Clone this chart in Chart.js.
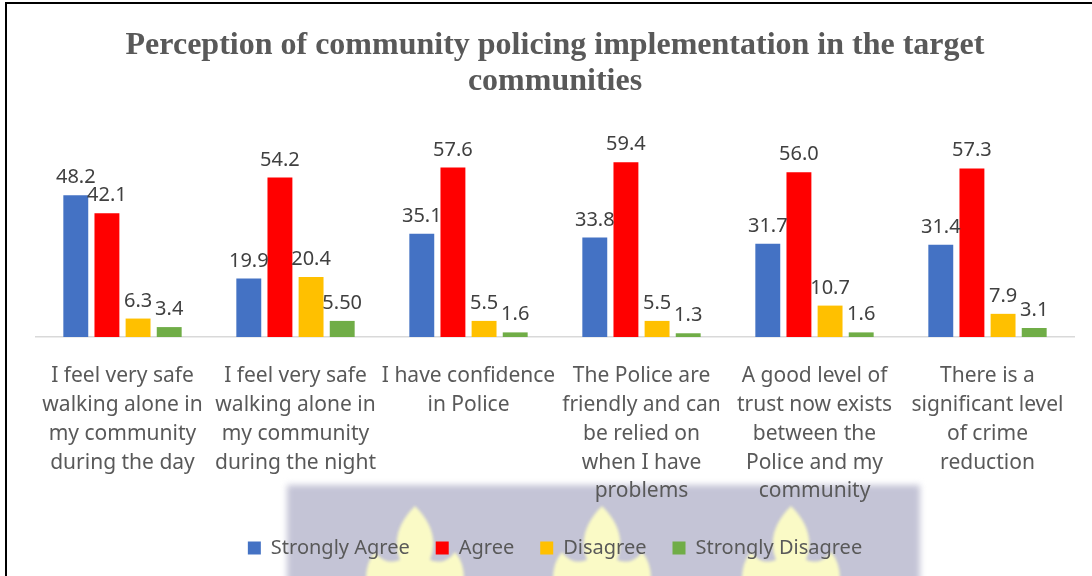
<!DOCTYPE html>
<html>
<head>
<meta charset="utf-8">
<script src="https://cdn.jsdelivr.net/npm/chart.js@4.4.0/dist/chart.umd.min.js"></script>
<style>
  html, body { margin: 0; padding: 0; background: #fff; }
  #wrap { width: 1092px; height: 576px; }
</style>
</head>
<body>
<div id="wrap"><canvas id="perceptionChart" width="1092" height="576"></canvas></div>
<script>
// Statements (x categories), one multi-line label each
const statements = [
    ['I feel very safe', 'walking alone in', 'my community', 'during the day'],
    ['I feel very safe', 'walking alone in', 'my community', 'during the night'],
    ['I have confidence', 'in Police'],
    ['The Police are', 'friendly and can', 'be relied on', 'when I have', 'problems'],
    ['A good level of', 'trust now exists', 'between the', 'Police and my', 'community'],
    ['There is a', 'significant level', 'of crime', 'reduction']
];

// Percent of respondents per answer
const stronglyAgree = [48.2, 19.9, 35.1, 33.8, 31.7, 31.4];
const agree = [42.1, 54.2, 57.6, 59.4, 56.0, 57.3];
const disagree = [6.3, 20.4, 5.5, 5.5, 10.7, 7.9];
const stronglyDisagree = [3.4, 5.50, 1.6, 1.3, 1.6, 3.1];
// decimals shown in the strongly disagree labels
const stronglyDisagreeDecimals = [1, 2, 1, 1, 1, 1];

const yMin = 0;
const yMax = 70;

const chartTitle = ['Perception of community policing implementation in the target', 'communities'];

// Background: white page with the faded crest band behind the legend
const backdrop = {
    id: 'backdrop',
    beforeDraw(chart) {
        const ctx = chart.ctx;
        ctx.save();
        ctx.fillStyle = '#ffffff';
        ctx.fillRect(0, 0, chart.width, chart.height);

        ctx.filter = 'blur(3px)';
        ctx.fillStyle = '#c4c4d6';
        ctx.fillRect(287, 485, 633, 110);

        ctx.filter = 'blur(1.5px)';
        ctx.fillStyle = '#fafac6';
        [415, 602, 791].forEach(cx => {
            ctx.beginPath();
            ctx.moveTo(cx, 506);
            ctx.quadraticCurveTo(cx + 26, 532, cx + 15, 560);
            ctx.quadraticCurveTo(cx + 30, 566, cx + 40, 552);
            ctx.quadraticCurveTo(cx + 52, 566, cx + 48, 590);
            ctx.lineTo(cx - 48, 590);
            ctx.quadraticCurveTo(cx - 52, 566, cx - 40, 552);
            ctx.quadraticCurveTo(cx - 30, 566, cx - 15, 560);
            ctx.quadraticCurveTo(cx - 26, 532, cx, 506);
            ctx.closePath();
            ctx.fill();
        });
        ctx.restore();
    }
};

// Value above each bar
const valueLabels = {
    id: 'valueLabels',
    afterDatasetsDraw(chart) {
        const ctx = chart.ctx;
        ctx.save();
        ctx.font = '20px "Noto Sans"';
        ctx.fillStyle = '#404040';
        ctx.textAlign = 'center';
        ctx.textBaseline = 'alphabetic';
        chart.data.datasets.forEach((ds, i) => {
            const meta = chart.getDatasetMeta(i);
            meta.data.forEach((bar, j) => {
                const digits = ds.decimals ? ds.decimals[j] : 1;
                ctx.fillText(ds.data[j].toFixed(digits), bar.x, bar.y - 12);
            });
        });
        ctx.restore();
    }
};

// Thin black frame along the top and left edge
const frame = {
    id: 'frame',
    afterDraw(chart) {
        const ctx = chart.ctx;
        ctx.save();
        ctx.strokeStyle = '#000000';
        ctx.lineWidth = 2;
        ctx.beginPath();
        ctx.moveTo(6, chart.height);
        ctx.lineTo(6, 3);
        ctx.lineTo(chart.width, 3);
        ctx.stroke();
        ctx.restore();
    }
};

const chartData = {
    labels: statements,
    datasets: [
        { label: 'Strongly Agree', data: stronglyAgree, backgroundColor: '#4472c4' },
        { label: 'Agree', data: agree, backgroundColor: '#ff0000' },
        { label: 'Disagree', data: disagree, backgroundColor: '#ffc000' },
        { label: 'Strongly Disagree', data: stronglyDisagree, backgroundColor: '#70ad47', decimals: stronglyDisagreeDecimals }
    ]
};

const chartConfig = {
    type: 'bar',
    data: chartData,
    options: {
        responsive: false,
        animation: false,
        categoryPercentage: 0.72,
        barPercentage: 0.8,
        layout: {
            padding: { top: 3, left: 36, right: 18, bottom: 8 }
        },
        scales: {
            x: {
                grid: { display: false, drawTicks: false },
                border: { color: '#d9d9d9', width: 1.5 },
                ticks: {
                    color: '#595959',
                    font: { family: 'Noto Sans', size: 21, lineHeight: 1.38 },
                    padding: 24,
                    autoSkip: false,
                    maxRotation: 0
                },
                // the long labels may run into the legend's top padding
                afterFit(scale) {
                    scale.height -= 18;
                }
            },
            y: {
                display: false,
                min: yMin,
                max: yMax
            }
        },
        plugins: {
            title: {
                display: true,
                text: chartTitle,
                color: '#595959',
                font: { family: 'Liberation Serif', size: 32, weight: 'bold', lineHeight: 1.125 },
                padding: { top: 25, bottom: 31 }
            },
            legend: {
                position: 'bottom',
                labels: {
                    color: '#595959',
                    font: { family: 'Noto Sans', size: 20 },
                    boxWidth: 13,
                    boxHeight: 13,
                    padding: 26
                }
            },
            tooltip: { enabled: false }
        }
    },
    plugins: [backdrop, valueLabels, frame]
};

const ctx = document.getElementById('perceptionChart').getContext('2d');
const perceptionChart = new Chart(ctx, chartConfig);
</script>
</body>
</html>
